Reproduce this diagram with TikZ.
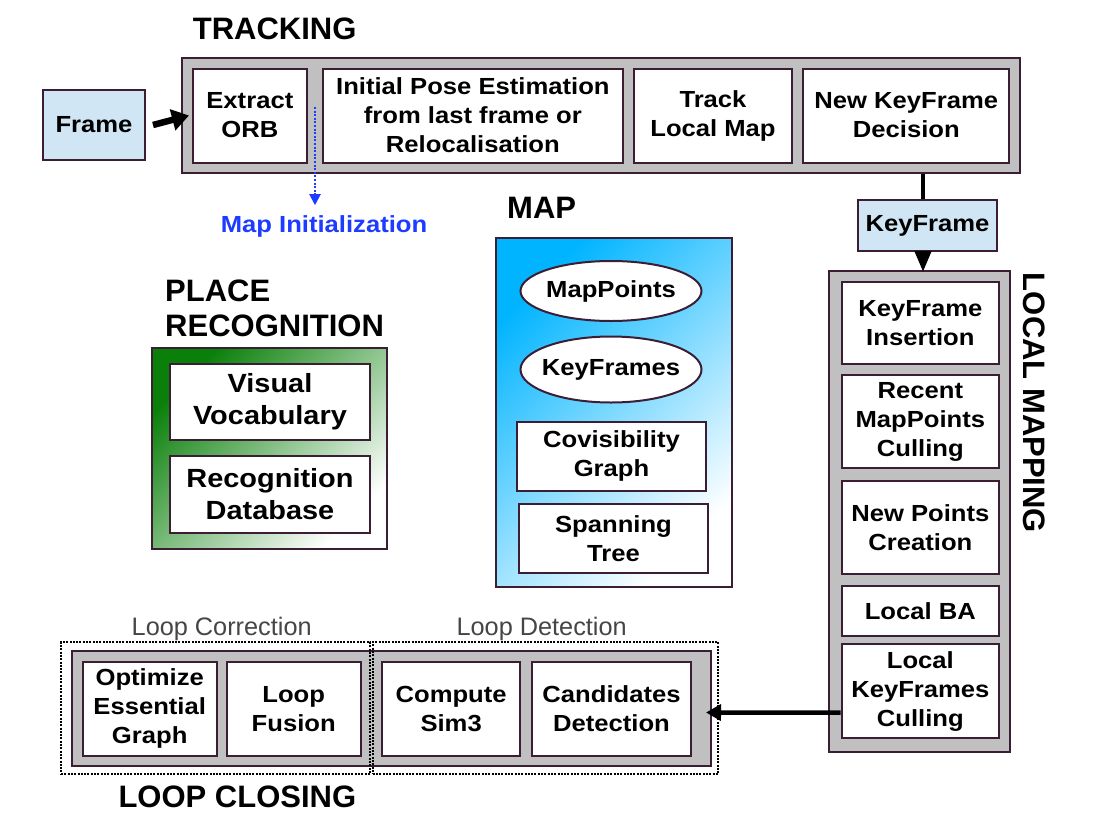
\documentclass[tikz,border=0pt]{standalone}
\usepackage{fontspec}
\setmainfont{Liberation Sans}
\newfontfamily\lblfamily{Liberation Sans}[FakeStretch=1.1]
\usetikzlibrary{arrows.meta,calc,shapes.geometric}

\definecolor{edge}{HTML}{3C1E34}
\definecolor{panelgrey}{HTML}{C0C0C0}
\definecolor{lightblue}{HTML}{D0E6F4}
\definecolor{mapblue}{HTML}{00B4FF}
\definecolor{placegreen}{HTML}{0A800A}
\definecolor{initblue}{HTML}{1E3CFF}
\definecolor{subgrey}{HTML}{454545}

\tikzset{
  lbl/.style={font=\lblfamily\bfseries\fontsize{23.3}{29}\selectfont, align=center, inner sep=0pt},
  biglbl/.style={font=\lblfamily\bfseries\fontsize{26.3}{32}\selectfont},
  title/.style={font=\bfseries\fontsize{31}{35}\selectfont, inner sep=0pt, align=left},
  sublbl/.style={font=\fontsize{25.3}{30}\selectfont, text=subgrey, inner sep=0pt},
  sz/.style 2 args={minimum width=#1pt, minimum height=#2pt},
  panel/.style={draw=edge, line width=2pt, fill=panelgrey, inner sep=0pt},
  box/.style={lbl, draw=edge, line width=2pt, fill=white},
  inbox/.style={box, fill=lightblue},
  oval/.style={lbl, draw=edge, line width=2pt, fill=white, ellipse, inner xsep=-8pt},
  groupbox/.style={draw=black, line width=2pt, dash pattern=on 2pt off 1.3pt, inner sep=0pt},
  fatarrow/.style={draw=black, line width=6.5pt, -{Triangle[length=17pt,width=21pt]}},
  thickline/.style={draw=black, line width=4.3pt},
  initarrow/.style={draw=initblue, line width=2pt, dash pattern=on 2pt off 1.6pt,
    -{Triangle[length=11pt,width=11pt]}},
}

\begin{document}
\begin{tikzpicture}[x=1pt,y=-1pt]
\useasboundingbox (0,0) rectangle (1109,836);

% ---------------- Tracking ----------------
\node[title, anchor=north west] (trackTitle) at (192.7,17.3) {TRACKING};
\node[panel, sz={838.3}{115}] (tracking) at (600.85,115.5) {};
\node[box, sz={113.7}{94}] (extract) at (249.85,115.5) {Extract\\ORB};
\node[box, sz={299.7}{94}] (initpose) at (472.85,115.5) {Initial Pose Estimation\\from last frame or\\Relocalisation};
\node[box, sz={157.4}{94}] (tlm) at (713,115.5) {Track\\Local Map};
\node[box, sz={206}{94}] (nkd) at (906.3,115.5) {New KeyFrame\\Decision};

\node[inbox, sz={102}{70}] (frame) at (94,125) {Frame};
\draw[fatarrow] ([xshift=7pt]frame.east) -- ([xshift=-3pt]extract.west);

% map initialisation hint
\node[lbl, anchor=base, text=initblue] (mapinit) at (324,232.3) {Map Initialization};
\coordinate (miStart) at (315,107);
\draw[initarrow, shorten >=10pt] (miStart) -- (miStart |- mapinit.north);

% ---------------- Map ----------------
\node[title, anchor=north west] (mapTitle) at (507,197) {MAP};
\node[draw=edge, line width=2pt, inner sep=0pt, sz={236}{349},
      top color=mapblue, bottom color=white, shading angle=45] (map) at (614,412.5) {};
\node[oval, sz={181}{60}] (mappoints) at (611,291) {MapPoints};
\node[oval, sz={181}{66}] (keyframes) at (611,369.5) {KeyFrames};
\node[box, sz={189}{69}] (covis) at (611.5,456.2) {Covisibility\\Graph};
\node[box, sz={189}{69}] (spanning) at (613.5,538.5) {Spanning\\Tree};

% ---------------- Place recognition ----------------
\node[title, anchor=north west] (placeTitle) at (165,280) {PLACE\\RECOGNITION};
\node[draw=edge, line width=2pt, inner sep=0pt, sz={234.4}{201},
      top color=placegreen, bottom color=white, shading angle=45] (place) at (269.5,448.8) {};
\node[box, biglbl, sz={200}{76}] (vocab) at (270,402) {Visual\\Vocabulary};
\node[box, biglbl, sz={200}{76.7}] (recdb) at (270,494.3) {Recognition\\Database};

% ---------------- Local mapping ----------------
\node[inbox, sz={138.4}{50.7}] (kfr) at (927.5,225.4) {KeyFrame};
\node[panel, sz={181}{480.7}] (lmPanel) at (919,511.3) {};
\node[title, rotate=-90] (lmTitle) at (1034,403) {LOCAL MAPPING};
\node[box, sz={157.3}{82.3}] (kfins) at (920.35,322.85) {KeyFrame\\Insertion};
\node[box, sz={157.3}{93}] (rmc) at (920.35,421.5) {Recent\\MapPoints\\Culling};
\node[box, sz={157.3}{93}] (npc) at (920.35,527.5) {New Points\\Creation};
\node[box, sz={157.3}{50}] (lba) at (920.35,611) {Local BA};
\node[box, sz={157.3}{94.3}] (lkc) at (920.35,691.15) {Local\\KeyFrames\\Culling};

\draw[thickline] ($(kfr.north)+(-4.5,0)$) -- ($(kfr.north |- tracking.south)+(-4.5,0)$);
\draw[draw=black, line width=4.5pt, -{Triangle[length=21pt,width=16pt]}]
  ($(kfr.south)+(-4.5,0)$) -- ($(kfr.south |- lmPanel.north)+(-4.5,2)$);

% ---------------- Loop closing ----------------
\node[panel, sz={639}{115}] (lcPanel) at (391.2,708.5) {};
\node[groupbox, sz={309}{131.7}] (corrBox) at (215.5,708.15) {};
\node[groupbox, sz={345.6}{131.7}] (detBox) at (545.5,708.15) {};
\node[sublbl, anchor=base] (corrLbl) at (221.7,635) {Loop Correction};
\node[sublbl, anchor=base] (detLbl) at (541.7,635) {Loop Detection};
\node[box, sz={134}{94}] (optim) at (149.7,708.7) {Optimize\\Essential\\Graph};
\node[box, sz={134}{94}] (fusion) at (293.7,708.7) {Loop\\Fusion};
\node[box, sz={137.7}{94}] (sim3) at (451.15,708.7) {Compute\\Sim3};
\node[box, sz={158.4}{94}] (cand) at (611.5,708.7) {Candidates\\Detection};
\node[title, anchor=north west] (lcTitle) at (118.3,786) {LOOP CLOSING};

\draw[draw=black, line width=4.5pt, -{Triangle[length=15pt,width=16pt]}]
  ($(cand.east -| lkc.west)+(0,4)$) -- ($(lcPanel.east)+(-5.7,4)$);
\end{tikzpicture}
\end{document}
